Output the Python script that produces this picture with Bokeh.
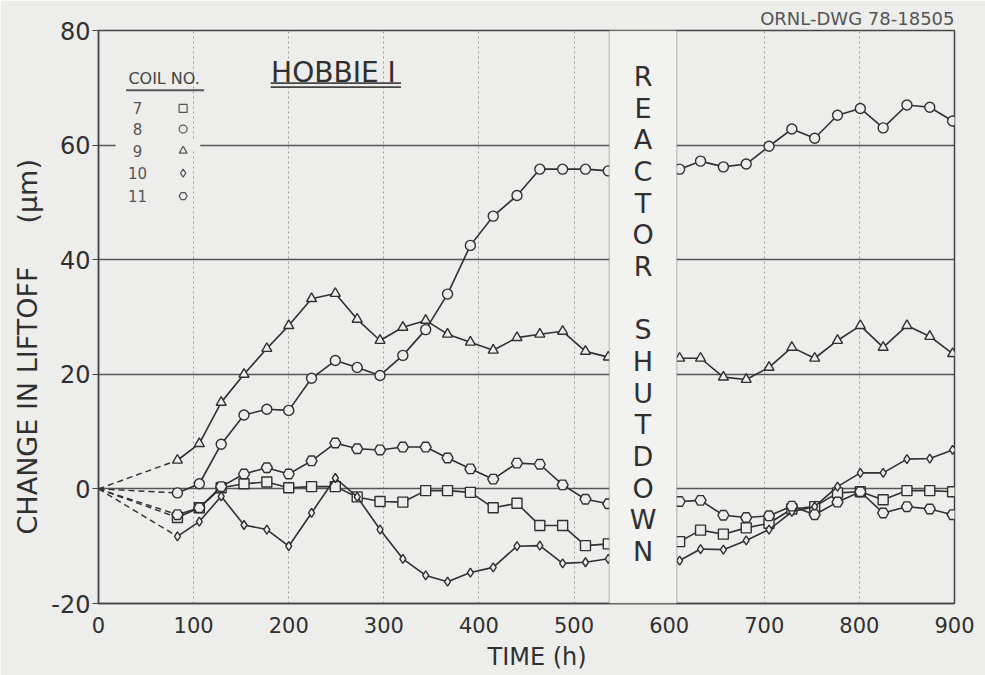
from bokeh.plotting import figure
from bokeh.models import Range1d, Label, BoxAnnotation, FixedTicker, Title
from bokeh.embed import file_html
from bokeh.resources import INLINE

# ---- data -------------------------------------------------------------
t_pre = [83, 106, 129, 153, 177, 200, 224, 249, 272, 296, 320, 344, 367, 391, 415, 440, 464, 488, 512, 536]
t_post = [611, 633, 657, 681, 705, 729, 753, 777, 801, 825, 850, 874, 898]

coil7_pre = [-5.0, -3.3, 0.2, 0.9, 1.2, 0.2, 0.4, 0.4, -1.4, -2.2, -2.3, -0.3, -0.3, -0.6, -3.3, -2.5, -6.4, -6.4, -9.9, -9.6]
coil7_post = [-9.2, -7.2, -7.9, -6.8, -6.0, -3.5, -3.1, -0.7, -0.5, -1.9, -0.3, -0.3, -0.5]

coil8_pre = [-0.7, 0.9, 7.8, 12.9, 13.9, 13.7, 19.3, 22.4, 21.2, 19.8, 23.3, 27.8, 34.0, 42.5, 47.6, 51.2, 55.8, 55.8, 55.8, 55.5]
coil8_post = [55.8, 57.2, 56.2, 56.7, 59.8, 62.8, 61.2, 65.2, 66.4, 63.0, 67.0, 66.6, 64.2]

coil9_pre = [5.0, 7.9, 15.1, 20.0, 24.5, 28.5, 33.2, 34.1, 29.6, 25.9, 28.2, 29.4, 27.0, 25.6, 24.2, 26.4, 27.0, 27.5, 24.0, 23.0]
coil9_post = [22.8, 22.8, 19.5, 19.1, 21.2, 24.7, 22.8, 25.9, 28.5, 24.7, 28.5, 26.6, 23.6]

coil10_pre = [-8.3, -5.7, -1.3, -6.3, -7.1, -10.0, -4.2, 1.9, -1.4, -7.1, -12.2, -15.1, -16.2, -14.6, -13.7, -10.0, -9.9, -13.0, -12.8, -12.2]
coil10_post = [-12.5, -10.5, -10.6, -9.0, -7.1, -4.0, -3.1, 0.4, 2.8, 2.8, 5.2, 5.3, 6.8]

coil11_pre = [-4.5, -3.3, 0.4, 2.6, 3.7, 2.6, 4.9, 8.0, 7.0, 6.8, 7.3, 7.3, 5.4, 3.5, 1.7, 4.5, 4.3, 0.7, -1.8, -2.6]
coil11_post = [-2.2, -2.0, -4.6, -5.0, -4.7, -3.0, -4.5, -2.3, -0.5, -4.2, -3.1, -3.5, -4.5]

coil_names = ["7", "8", "9", "10", "11"]
coil_markers = ["square", "circle", "triangle", "diamond", "hex"]

x_ticks = [0, 100, 200, 300, 400, 500, 600, 700, 800, 900]
y_ticks = [-20, 0, 20, 40, 60, 80]
y_tick_labels = {-20: "-20", 0: "0", 20: "20", 40: "40", 60: "60", 80: "80"}

shutdown_start, shutdown_end = 537, 608
shutdown_letters = list("REACTOR") + [""] + list("SHUTDOWN")

# ---- style ------------------------------------------------------------
BG = "#ededeb"
INK = "#303030"
FONT = "DejaVu Sans"

p = figure(width=985, height=675, x_range=Range1d(0, 900), y_range=Range1d(-20, 80),
           output_backend="svg", toolbar_location=None,
           min_border_left=98, min_border_right=31, min_border_top=30, min_border_bottom=71,
           background_fill_color=BG, border_fill_color=BG)

p.outline_line_color = "#444444"
p.outline_line_width = 1.5

for ax in (p.xaxis[0], p.yaxis[0]):
    ax.axis_line_color = "#444444"
    ax.axis_line_width = 1.5
    ax.major_label_text_font = FONT
    ax.major_label_text_color = INK
    ax.minor_tick_line_color = None
    ax.major_tick_line_color = "#444444"

p.xaxis.ticker = FixedTicker(ticks=x_ticks)
p.yaxis.ticker = FixedTicker(ticks=y_ticks)
p.yaxis.major_label_overrides = y_tick_labels
p.xaxis.major_label_text_font_size = "21px"
p.yaxis.major_label_text_font_size = "24px"
p.xaxis.major_tick_out = 0
p.xaxis.major_tick_in = 0
p.yaxis.major_tick_out = 6
p.yaxis.major_tick_in = 0
p.xaxis.major_label_standoff = 13
p.yaxis.major_label_standoff = 2

p.xgrid.ticker = FixedTicker(ticks=x_ticks)
p.ygrid.ticker = FixedTicker(ticks=y_ticks)
p.xgrid.grid_line_color = "#9a9a9a"
p.xgrid.grid_line_dash = "2 3"
p.xgrid.grid_line_width = 1
p.ygrid.grid_line_color = "#555555"
p.ygrid.grid_line_width = 1.3

# gap in the 60 grid line behind the legend
p.add_layout(BoxAnnotation(left=18, right=107, bottom=59.2, top=60.8, fill_color=BG,
                           fill_alpha=1, line_color=None, level="underlay"))

# ---- titles outside the frame ------------------------------------------
NB = "\u00a0"
p.add_layout(Title(text="ORNL-DWG 78-18505", align="right", text_font=FONT, text_font_size="18px",
                   text_font_style="normal", text_color="#555555", standoff=3), "above")
p.add_layout(Title(text="TIME (h)", align="left", offset=389, text_font=FONT, text_font_size="24px",
                   text_font_style="normal", text_color=INK, standoff=10), "below")
p.add_layout(Title(text="CHANGE IN LIFTOFF" + NB * 5 + "(\u03bcm)", align="left", offset=69, text_font=FONT,
                   text_font_size="27px", text_font_style="normal", text_color=INK, standoff=11), "left")

# ---- series -----------------------------------------------------------
series = [
    (coil7_pre, coil7_post),
    (coil8_pre, coil8_post),
    (coil9_pre, coil9_post),
    (coil10_pre, coil10_post),
    (coil11_pre, coil11_post),
]

for (pre, post), mk in zip(series, coil_markers):
    # dashed extrapolation from the origin to the first reading
    p.line([0, t_pre[0]], [0, pre[0]], line_color=INK, line_width=1.4, line_dash="6 4")
    for tt, vv in ((t_pre, pre), (t_post, post)):
        p.line(tt, vv, line_color=INK, line_width=1.6)
        sz = 9 if mk == "diamond" else 10
        if mk == "hex":
            sz = 11
        p.scatter(tt, vv, marker=mk, size=sz, fill_color=BG, line_color=INK, line_width=1.4)

# ---- reactor shutdown band ------------------------------------------
p.add_layout(BoxAnnotation(left=shutdown_start, right=shutdown_end, fill_color="#f2f2f0",
                           fill_alpha=1, line_color="#555555", line_width=1.3))

y_top, step = 72.0, 5.53
for i, ch in enumerate(shutdown_letters):
    if ch:
        p.add_layout(Label(x=(shutdown_start + shutdown_end) / 2, y=y_top - i * step, text=ch,
                           text_align="center", text_baseline="middle",
                           text_font=FONT, text_font_size="27px", text_color=INK))

# ---- texts inside the frame --------------------------------------------
p.add_layout(Label(x=247, y=72.6, text="HOBBIE I", text_align="center", text_baseline="middle",
                   text_font=FONT, text_font_size="28px", text_color=INK))
p.add_layout(BoxAnnotation(left=181, right=318, bottom=70.65, top=70.95, fill_color="#444444",
                           fill_alpha=1, line_color=None))
p.add_layout(BoxAnnotation(left=181, right=318, bottom=69.95, top=70.25, fill_color="#444444",
                           fill_alpha=1, line_color=None))

p.add_layout(Label(x=69, y=71.7, text="COIL NO.", text_align="center", text_baseline="middle",
                   text_font=FONT, text_font_size="16px", text_color="#444444"))
p.add_layout(BoxAnnotation(left=29, right=111, bottom=69.4, top=69.75, fill_color="#555555",
                           fill_alpha=1, line_color=None))

legend_y = [66.4, 62.8, 59.0, 55.1, 51.1]
for name, mk, yy in zip(coil_names, coil_markers, legend_y):
    p.add_layout(Label(x=41, y=yy, text=name, text_align="center", text_baseline="middle",
                       text_font=FONT, text_font_size="15px", text_color="#555555"))
    p.scatter([89], [yy], marker=mk, size=8, fill_color=BG, line_color="#555555", line_width=1.2)

open("out.html", "w").write(file_html(p, INLINE))
